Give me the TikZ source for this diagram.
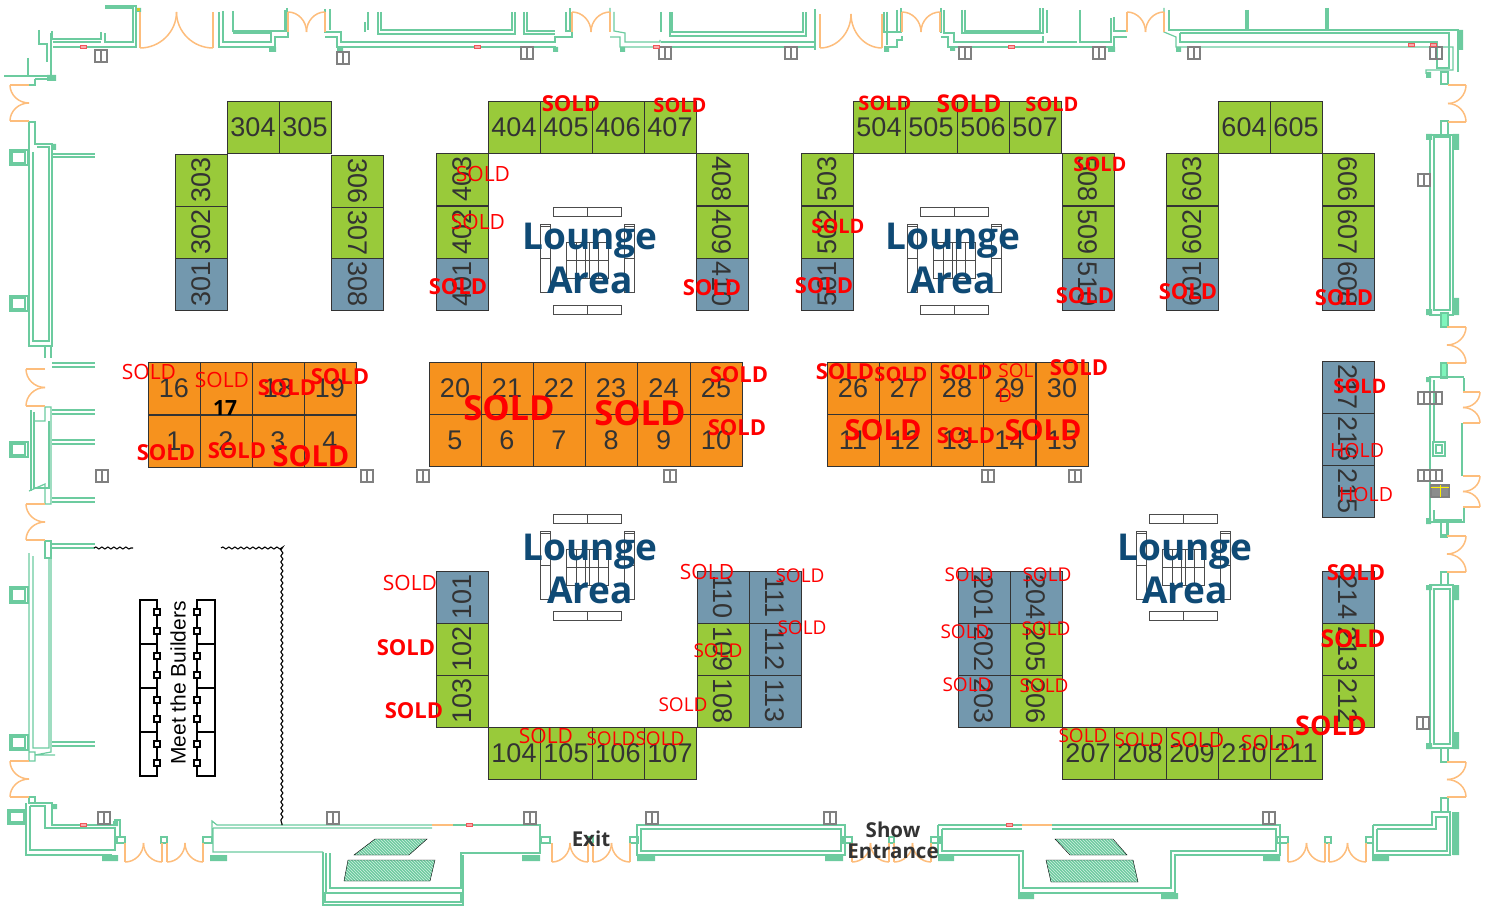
\documentclass[tikz,border=0pt]{standalone}
\usepackage{fontspec}
\usepackage{amsmath}
\usetikzlibrary{decorations.pathmorphing,patterns}
\newfontfamily\boothfont{Liberation Sans}
\newfontfamily\labelfont{Open Sans}
\definecolor{wallgreen}{HTML}{6CCB9F}
\definecolor{walllight}{HTML}{7FF5BC}
\definecolor{dooryellow}{HTML}{FDBD7C}
\definecolor{boothgreen}{HTML}{99CA3A}
\definecolor{boothblue}{HTML}{7398AE}
\definecolor{boothorange}{HTML}{F6921E}
\definecolor{boothtext}{HTML}{333333}
\definecolor{loungeblue}{HTML}{0F4A75}
\definecolor{marker}{HTML}{F0565A}
\newcommand{\hdoor}[4]{
	\draw[doorleaf] (#1,#3) -- (#1,#4) (#2,#3) -- (#2,#4);
	\draw[doorarc] (#1,#3) .. controls ({#1+0.55*(#2-#1)/2},#3) and ({(#1+#2)/2},{#3+0.45*(#4-#3)}) .. ({(#1+#2)/2},#4);
	\draw[doorarc] (#2,#3) .. controls ({#2-0.55*(#2-#1)/2},#3) and ({(#1+#2)/2},{#3+0.45*(#4-#3)}) .. ({(#1+#2)/2},#4);
}
\newcommand{\vdoor}[4]{
	\draw[doorleaf] (#3,#1) -- (#4,#1) (#3,#2) -- (#4,#2);
	\draw[doorarc] (#3,#1) .. controls (#3,{#1+0.55*(#2-#1)/2}) and ({#3+0.45*(#4-#3)},{(#1+#2)/2}) .. (#4,{(#1+#2)/2});
	\draw[doorarc] (#3,#2) .. controls (#3,{#2-0.55*(#2-#1)/2}) and ({#3+0.45*(#4-#3)},{(#1+#2)/2}) .. (#4,{(#1+#2)/2});
}
\newcommand{\liftbox}[2]{
	\draw[lift] ({#1-6},{#2-6}) rectangle ({#1+6},{#2+6}) (#1,{#2-6}) -- (#1,{#2+6});
}
\newcommand{\redmark}[2]{
	\draw[marker,line width=1pt,fill=marker!50] ({#1-3},{#2-1.5}) rectangle ({#1+3},{#2+1.5});
}
\newcommand{\loungeset}[2]{
	\begin{scope}[shift={(#1,#2)}]
		\draw[seat] (-34,-53) rectangle (34,-44) (0,-53) -- (0,-44);
		\draw[seat] (-34,44) rectangle (34,53) (0,44) -- (0,53);
		\draw[seat] (-47,-36) rectangle (-37,32) (-47,-34) -- (-37,-34) (-47,-2) -- (-37,-2);
		\draw[seat] (37,-36) rectangle (47,32) (37,-34) -- (47,-34) (37,-2) -- (47,-2);
		\draw[seat] (-21,-18) rectangle (21,18) (-21,0) -- (21,0) (-11,-18) -- (-11,18) (11,-18) -- (11,18) (-2,-18) -- (-2,18) (2,-18) -- (2,18);
	\end{scope}
}
\newcommand{\standpair}[1]{
	\draw[stand] (140,#1) rectangle (157,{#1+44}) (197,#1) rectangle (215,{#1+44});
	\draw[stand,fill=white] (154,{#1+9}) rectangle (160,{#1+15}) (154,{#1+28}) rectangle (160,{#1+34}) (194,{#1+9}) rectangle (200,{#1+15}) (194,{#1+28}) rectangle (200,{#1+34});
}
\begin{document}
\begin{tikzpicture}[
		x=1pt,y=-1pt,
		wall/.style={draw=wallgreen,line width=1.2pt},
		wallfill/.style={fill=wallgreen},
		doorleaf/.style={draw=dooryellow,line width=2.6pt},
		doorarc/.style={draw=dooryellow,line width=1.5pt},
		lift/.style={draw=gray,line width=1.3pt},
		seat/.style={draw=black!70,line width=1pt},
		stand/.style={draw=black,line width=1.1pt},
		hatch/.style={preaction={fill=wallgreen},pattern=north west lines,pattern color=white!70!wallgreen},
		fence/.style={draw=black,line width=1.1pt,decorate,decoration={snake,amplitude=1pt,segment length=6pt}},
		booth/.style={rectangle,draw=boothtext,line width=0.9pt,minimum width=52pt,minimum height=52pt,inner sep=0pt,text=boothtext,font=\boothfont\fontsize{27}{30}\selectfont},
		gbooth/.style={booth,fill=boothgreen},
		bbooth/.style={booth,fill=boothblue},
		obooth/.style={booth,fill=boothorange},
		soldbig/.style={text=red,inner sep=0pt,font=\labelfont\bfseries\fontsize{#1}{#1}\selectfont},
		soldthin/.style={text=red,inner sep=0pt,font=\labelfont\fontsize{#1}{#1}\selectfont},
		lounge/.style={text=loungeblue,inner sep=0pt,font=\labelfont\bfseries\fontsize{37}{40}\selectfont},
		signtext/.style={text=boothtext,inner sep=0pt,font=\labelfont\bfseries\fontsize{20.5}{24}\selectfont}
		]
	\useasboundingbox (0,0) rectangle (1488,909);

	\draw[wall] (105,6) -- (136,6) -- (136,47) -- (53,47);
	\draw[wall] (105,8) -- (133,8) -- (133,42) -- (105,42) -- (105,33);
	\draw[wall] (52,31) -- (52,39) -- (101,39) -- (101,32) (53,42) -- (101,42);
	\draw[wall] (39,30) -- (39,44) -- (47,44) -- (47,62) (51,33) -- (51,76);
	\draw[wall] (4,76) -- (56,76) (28,58) -- (28,76) (35,79) -- (51,79) (35,79) -- (35,85) -- (29,85);
	\draw[wall] (29,122) -- (35,122) -- (35,144) -- (52,144) -- (52,346) -- (29,346) -- (29,122);
	\draw[wall] (33,152) -- (33,341) -- (49,341) -- (49,147) -- (37,147);
	\draw[wall] (45,346) -- (45,358) (51,346) -- (51,358);
	\draw[wall] (10,150) rectangle (28,165) (12,152) rectangle (25,163);
	\draw[wall] (10,296) rectangle (28,311) (12,298) rectangle (25,309);
	\draw[wall] (52,154) -- (95,154) (52,157) -- (95,157);
	\draw[wall] (52,363) -- (95,363) (52,367) -- (95,367);
	\draw[wall] (52,410) -- (95,410) (52,414) -- (95,414);
	\draw[wall] (52,440) -- (95,440) (52,444) -- (95,444);
	\draw[wall] (52,498) -- (95,498) (52,502) -- (95,502);
	\draw[wall] (52,544) -- (95,544) (52,548) -- (95,548);
	\draw[wall] (45,407) -- (51,407) -- (51,504) -- (45,504) -- (45,484) -- (29,491) (45,407) -- (45,421) -- (33,421);
	\draw[wall] (31,410) -- (31,491) (34,412) -- (34,488) -- (49,488) -- (49,421);
	\draw[wall] (10,442) rectangle (28,457) (12,444) rectangle (25,455);
	\draw[wall] (45,541) -- (51,541) -- (51,558) -- (45,558) -- (45,541);
	\draw[wall] (29,553) -- (29,752) (33,556) -- (33,748) -- (49,748) -- (49,557) (51,557) -- (51,752) -- (35,755) (29,752) rectangle (35,761) (35,755) -- (55,755);
	\draw[wall] (10,587) rectangle (28,603) (12,589) rectangle (25,601);
	\draw[wall] (10,735) rectangle (28,750) (12,737) rectangle (25,748);
	\draw[wall] (52,742) -- (95,742) (52,746) -- (95,746);
	\draw[wall] (29,797) rectangle (35,803);
	\draw[wall] (8,810) rectangle (26,824) (10,812) rectangle (24,822);
	\draw[wall] (26,803) -- (26,855) -- (112,855) (30,806) -- (30,850) -- (115,850) -- (115,828) -- (45,828) -- (45,806) -- (30,806) (30,803) -- (52,803) -- (52,825) -- (115,825) -- (115,820) -- (120,820) -- (120,837);
	\draw[wall] (117,837) rectangle (125,843) (161,837) rectangle (167,843) (203,837) rectangle (212,843);
	\draw[wall] (212,837) -- (212,821) -- (217,825) -- (432,825) (213,828) -- (213,852) -- (323,852) (213,828) -- (432,828);
	\draw[wall] (323,852) -- (323,905) -- (463,905) -- (463,855) (330,853) -- (330,888) -- (461,888) -- (461,853) -- (540,853) -- (540,825) -- (453,825);
	\draw[wall] (325,893) rectangle (461,902) (326,853) -- (326,893);
	\draw[wall] (541,837) rectangle (550,843) (630,837) rectangle (638,843) (588,837) rectangle (593,843);
	\draw[wall] (637,825) rectangle (845,855) (641,829) rectangle (841,851);
	\draw[wall] (843,837) rectangle (852,843) (889,837) rectangle (894,843) (931,837) rectangle (940,843);
	\draw[wall] (938,825) -- (1022,825) (1052,825) -- (1280,825) -- (1280,855) -- (1175,855) -- (1175,893) -- (1019,893) -- (1019,855) -- (938,855) -- (938,825);
	\draw[wall] (942,829) -- (1022,829) (1052,829) -- (1276,829) -- (1276,851) -- (1171,851) -- (1171,888) -- (1023,888) -- (1023,851) -- (942,851) -- (942,829);
	\draw[wall] (1277,837) rectangle (1288,843) (1325,837) rectangle (1331,843) (1366,837) rectangle (1373,843);
	\draw[wall] (1373,825) -- (1432,825) -- (1432,812) -- (1450,812) -- (1450,855) -- (1373,855) -- (1373,825) (1377,829) -- (1436,829) -- (1436,817) -- (1447,817) -- (1447,851) -- (1377,851) -- (1377,829);
	\draw[wall] (1453,812) -- (1453,855);

	\draw[wall] (219,12) -- (219,47) -- (275,47) -- (275,37) -- (288,37) -- (288,32) (287,8) -- (287,32);
	\draw[wall] (223,11) -- (223,42) -- (271,42) -- (271,33) -- (233,33) (233,11) -- (233,31) -- (285,31) -- (285,10);
	\draw[wall] (325,9) -- (325,32) -- (341,32) -- (341,42) -- (555,42) -- (555,37) -- (572,37) -- (572,32) (330,9) -- (330,30);
	\draw[wall] (325,37) -- (337,37) -- (337,47) -- (555,47) -- (555,52);
	\draw[wall] (368,12) -- (368,30) (365,22) -- (365,32) (378,12) -- (378,34) -- (515,34) -- (515,12) (381,12) -- (381,30) -- (512,30) -- (512,12);
	\draw[wall] (524,12) -- (524,34) -- (555,34) (527,12) -- (527,31) -- (555,31) (566,12) -- (566,31) -- (570,31) (570,8) -- (570,32);
	\draw[wall] (610,8) -- (610,32) (614,12) -- (614,31) -- (625,33) -- (625,42) -- (660,42) -- (660,40) (610,37) -- (620,37) -- (620,47) -- (660,47);
	\draw[wall] (661,12) -- (661,32) (670,12) -- (670,36) -- (806,36) -- (806,12) (672,12) -- (672,32) -- (803,32) -- (803,12);
	\draw[wall] (661,42) -- (815,42) (661,47) -- (815,47) (815,9) -- (815,50);
	\draw[wall] (884,12) -- (884,32) -- (902,32) (887,12) -- (887,45) (897,10) -- (897,32) (901,8) -- (901,32);
	\draw[wall] (884,47) -- (897,47) -- (897,40) -- (902,40) -- (902,36);
	\draw[wall] (941,8) -- (941,33) (944,10) -- (944,33) -- (954,33) -- (954,42) -- (1043,42) -- (1043,36) (941,37) -- (948,37) -- (948,47) -- (1114,47) -- (1114,37) -- (1127,37);
	\draw[wall] (962,10) -- (962,33) -- (1043,33) -- (1043,8) (965,10) -- (965,31) -- (1040,31) -- (1040,8);
	\draw[wall] (1047,10) -- (1047,33) (1047,42) -- (1077,42) (1080,10) -- (1080,42) -- (1111,42) -- (1111,18) (1114,17) -- (1114,31) -- (1127,31);
	\draw[wall] (1164,8) -- (1164,32) -- (1176,37) -- (1176,47) -- (1453,47) -- (1453,70) -- (1441,70) -- (1426,70) -- (1426,74);
	\draw[wall] (1169,10) -- (1169,30) -- (1458,30) -- (1458,72) (1246,10) -- (1246,30) (1248,10) -- (1248,30) (1326,8) -- (1326,30) (1328,8) -- (1328,30);
	\draw[wall] (1180,33) -- (1449,33) -- (1449,68) -- (1437,68) -- (1437,42) -- (1180,42) -- (1180,33);
	\draw[wall] (1441,72) rectangle (1448,84) (1441,121) rectangle (1448,135);
	\draw[wall] (1430,135) rectangle (1453,315) (1434,137) rectangle (1450,310);
	\draw[wall,fill=walllight] (1441,313) rectangle (1448,327);
	\draw[wall] (1441,520) rectangle (1448,535) (1441,572) rectangle (1448,585) (1441,748) rectangle (1448,762) (1441,798) rectangle (1448,812);
	\draw[wall] (1430,585) rectangle (1453,748) (1434,589) rectangle (1450,744);
	\draw[wall,fill=walllight] (1441,363) rectangle (1447,378);
	\draw[wall] (1441,522) rectangle (1447,537);
	\draw[wall] (1464,378) -- (1464,392) (1462,423) -- (1462,476) (1464,507) -- (1464,522) -- (1430,522) -- (1430,377) -- (1464,377);
	\draw[wall] (1434,380) -- (1434,442) (1434,510) -- (1434,520) -- (1462,520) (1433,442) rectangle (1445,456) (1436,445) rectangle (1442,453);
	\draw[gray,line width=1.2pt,fill=black!45] (1431,485) rectangle (1449,497);
	\draw[yellow,line width=1pt] (1431,487) -- (1449,487) (1440,485) -- (1440,497);

	\fill[wallfill] (47,75) rectangle (56,81) (51,144) rectangle (56,150) (136,8) rectangle (141,12) (269,47) rectangle (276,52) (337,47) rectangle (343,52) (553,47) rectangle (558,52) (620,47) rectangle (625,52) (884,47) rectangle (889,52) (950,47) rectangle (955,51) (1108,47) rectangle (1115,52) (1176,47) rectangle (1181,52);
	\fill[wallfill] (1426,134) rectangle (1432,140) (1453,134) rectangle (1459,150) (1426,309) rectangle (1432,315) (1453,298) rectangle (1459,315) (1426,585) rectangle (1432,590) (1453,585) rectangle (1459,600) (1426,743) rectangle (1432,749) (1453,732) rectangle (1459,749) (1426,72) rectangle (1431,78) (1458,30) rectangle (1463,50) (1453,812) rectangle (1459,855) (1426,377) rectangle (1431,382) (1426,518) rectangle (1431,524);
	\fill[wallfill] (102,855) rectangle (118,861) (210,855) rectangle (227,861) (522,855) rectangle (540,861) (637,855) rectangle (655,861) (825,855) rectangle (843,861) (938,855) rectangle (954,861) (1263,855) rectangle (1280,861) (1372,855) rectangle (1389,861) (1018,893) rectangle (1034,899) (1161,893) rectangle (1178,899) (51,804) rectangle (57,809) (113,821) rectangle (118,826);
	\fill[yellow!80!black] (137,8) rectangle (140,11);
	\draw[hatch] (354,855) -- (375,839) -- (427,839) -- (409,855) -- cycle;
	\draw[hatch] (344,881) -- (348,860) -- (435,860) -- (430,881) -- cycle;
	\draw[hatch] (1055,839) -- (1113,839) -- (1127,855) -- (1070,855) -- cycle;
	\draw[hatch] (1046,860) -- (1133,860) -- (1138,882) -- (1051,882) -- cycle;

	\hdoor{140}{213}{48}{12}
	\hdoor{288}{325}{12}{32}
	\hdoor{572}{610}{12}{32}
	\hdoor{820}{882}{48}{14}
	\hdoor{902}{940}{12}{32}
	\hdoor{1127}{1164}{12}{32}
	\hdoor{125}{162}{862}{843}
	\hdoor{167}{203}{862}{843}
	\hdoor{552}{588}{862}{843}
	\hdoor{593}{630}{862}{843}
	\hdoor{852}{889}{862}{843}
	\hdoor{894}{931}{862}{843}
	\hdoor{1288}{1325}{862}{843}
	\hdoor{1329}{1366}{862}{843}
	\vdoor{85}{121}{10}{29}
	\vdoor{369}{406}{26}{45}
	\vdoor{504}{540}{26}{45}
	\vdoor{761}{797}{10}{29}
	\vdoor{85}{122}{1466}{1448}
	\vdoor{327}{363}{1466}{1447}
	\vdoor{392}{423}{1480}{1463}
	\vdoor{476}{507}{1480}{1463}
	\vdoor{536}{572}{1466}{1447}
	\vdoor{762}{797}{1466}{1447}
	\draw[doorleaf] (432,825) -- (453,825) (1022,825) -- (1052,825);

	\liftbox{101}{56}
	\liftbox{343}{58}
	\liftbox{527}{53}
	\liftbox{665}{53}
	\liftbox{791}{53}
	\liftbox{965}{53}
	\liftbox{1099}{53}
	\liftbox{1194}{53}
	\liftbox{1436}{53}
	\liftbox{102}{476}
	\liftbox{367}{476}
	\liftbox{423}{476}
	\liftbox{670}{476}
	\liftbox{988}{476}
	\liftbox{1075}{476}
	\liftbox{1424}{180}
	\liftbox{1423}{723}
	\liftbox{104}{818}
	\liftbox{333}{818}
	\liftbox{530}{818}
	\liftbox{652}{818}
	\liftbox{830}{818}
	\liftbox{1269}{818}
	\draw[lift] (1418,392) rectangle (1442,404) (1424,392) -- (1424,404) (1430,392) -- (1430,404) (1436,392) -- (1436,404);
	\draw[lift] (1418,470) rectangle (1442,481) (1424,470) -- (1424,481) (1430,470) -- (1430,481) (1436,470) -- (1436,481);
	\redmark{83}{47}
	\redmark{477}{47}
	\redmark{656}{47}
	\redmark{1011}{47}
	\redmark{1411}{45}
	\redmark{1433}{45}
	\redmark{83}{825}
	\redmark{469}{825}
	\redmark{1009}{825}

	\draw[fence] (94,548) -- (133,548);
	\draw[fence] (221,548) -- (282,548) -- (282,825);
	\standpair{600}
	\standpair{644}
	\standpair{688}
	\standpair{732}
	\node[rotate=90,inner sep=0pt,text=black,font=\boothfont\fontsize{21}{24}\selectfont] (builders) at (178,683) {Meet the Builders};

	\loungeset{587}{261}
	\loungeset{954}{261}
	\loungeset{587}{567}
	\loungeset{1183}{567}

	\node[gbooth] (b304) at (253,127) {304};
	\node[gbooth] (b305) at (305,127) {305};
	\node[gbooth,rotate=90] (b303) at (201,180) {303};
	\node[gbooth,rotate=90] (b302) at (201,232) {302};
	\node[bbooth,rotate=90] (b301) at (201,284) {301};
	\node[gbooth,rotate=-90] (b306) at (357.5,181) {306};
	\node[gbooth,rotate=-90] (b307) at (357.5,233) {307};
	\node[bbooth,rotate=-90] (b308) at (357.5,284.5) {308};

	\node[gbooth] (b404) at (514,127) {404};
	\node[gbooth] (b405) at (566,127) {405};
	\node[gbooth] (b406) at (618,127) {406};
	\node[gbooth] (b407) at (670,127) {407};
	\node[gbooth,rotate=90] (b403) at (462,179) {403};
	\node[gbooth,rotate=90] (b402) at (462,232) {402};
	\node[bbooth,rotate=90] (b401) at (462,284) {401};
	\node[gbooth,rotate=-90] (b408) at (722,179) {408};
	\node[gbooth,rotate=-90] (b409) at (722,232) {409};
	\node[bbooth,rotate=-90] (b410) at (722,284) {410};

	\node[gbooth] (b504) at (879,127) {504};
	\node[gbooth] (b505) at (931,127) {505};
	\node[gbooth] (b506) at (983,127) {506};
	\node[gbooth] (b507) at (1035,127) {507};
	\node[gbooth,rotate=90] (b503) at (827,179) {503};
	\node[gbooth,rotate=90] (b502) at (827,232) {502};
	\node[bbooth,rotate=90] (b501) at (827,284) {501};
	\node[gbooth,rotate=-90] (b508) at (1088,179) {508};
	\node[gbooth,rotate=-90] (b509) at (1088,232) {509};
	\node[bbooth,rotate=-90] (b510) at (1088,284) {510};

	\node[gbooth] (b604) at (1244,127) {604};
	\node[gbooth] (b605) at (1296,127) {605};
	\node[gbooth,rotate=90] (b603) at (1192,179) {603};
	\node[gbooth,rotate=90] (b602) at (1192,232) {602};
	\node[bbooth,rotate=90] (b601) at (1192,284) {601};
	\node[gbooth,rotate=-90] (b606) at (1348,179) {606};
	\node[gbooth,rotate=-90] (b607) at (1348,232) {607};
	\node[bbooth,rotate=-90] (b608) at (1348,284) {608};

	\node[obooth] (b16) at (174,388) {16};
	\node[obooth] (b17) at (226,388) {};
	\node[obooth] (b18) at (278,388) {18};
	\node[obooth] (b19) at (330,388) {19};
	\node[obooth] (b1) at (174,441) {1};
	\node[obooth] (b2) at (226,441) {2};
	\node[obooth] (b3) at (278,441) {3};
	\node[obooth] (b4) at (330,441) {4};
	\node[inner sep=0pt,text=black,font=\labelfont\bfseries\fontsize{21}{24}\selectfont] (n17) at (225,408) {17};

	\node[obooth] (b20) at (455,388) {20};
	\node[obooth] (b21) at (507,388) {21};
	\node[obooth] (b22) at (559,388) {22};
	\node[obooth] (b23) at (611,388) {23};
	\node[obooth,minimum width=53pt] (b24) at (663.5,388) {24};
	\node[obooth] (b25) at (716,388) {25};
	\node[obooth] (b5) at (455,440) {5};
	\node[obooth] (b6) at (507,440) {6};
	\node[obooth] (b7) at (559,440) {7};
	\node[obooth] (b8) at (611,440) {8};
	\node[obooth,minimum width=53pt] (b9) at (663.5,440) {9};
	\node[obooth] (b10) at (716,440) {10};

	\node[obooth] (b26) at (853,388) {26};
	\node[obooth] (b27) at (905,388) {27};
	\node[obooth] (b28) at (957,388) {28};
	\node[obooth] (b29) at (1009.5,388) {29};
	\node[obooth] (b30) at (1062,388) {30};
	\node[obooth] (b11) at (853,440) {11};
	\node[obooth] (b12) at (905,440) {12};
	\node[obooth] (b13) at (957,440) {13};
	\node[obooth] (b14) at (1009.5,440) {14};
	\node[obooth] (b15) at (1062,440) {15};

	\node[bbooth,rotate=-90] (b217) at (1348,387) {217};
	\node[bbooth,rotate=-90] (b216) at (1348,439) {216};
	\node[bbooth,rotate=-90] (b215) at (1348,491) {215};

	\node[bbooth,rotate=90] (b101) at (462,597) {101};
	\node[gbooth,rotate=90] (b102) at (462,649) {102};
	\node[gbooth,rotate=90] (b103) at (462,701) {103};
	\node[gbooth] (b104) at (514,753) {104};
	\node[gbooth] (b105) at (566,753) {105};
	\node[gbooth] (b106) at (618,753) {106};
	\node[gbooth] (b107) at (670,753) {107};
	\node[gbooth,rotate=-90] (b108) at (723,701) {108};
	\node[gbooth,rotate=-90] (b109) at (723,649) {109};
	\node[bbooth,rotate=-90] (b110) at (723,597) {110};
	\node[bbooth,rotate=-90] (b111) at (775,597) {111};
	\node[bbooth,rotate=-90] (b112) at (775,649) {112};
	\node[bbooth,rotate=-90] (b113) at (775,701) {113};

	\node[bbooth,rotate=-90] (b201) at (984,597) {201};
	\node[bbooth,rotate=-90] (b202) at (984,649) {202};
	\node[bbooth,rotate=-90] (b203) at (984,701) {203};
	\node[bbooth,rotate=-90] (b204) at (1036,597) {204};
	\node[gbooth,rotate=-90] (b205) at (1036,649) {205};
	\node[gbooth,rotate=-90] (b206) at (1036,701) {206};
	\node[gbooth] (b207) at (1088,753) {207};
	\node[gbooth] (b208) at (1140,753) {208};
	\node[gbooth] (b209) at (1192,753) {209};
	\node[gbooth] (b210) at (1244,753) {210};
	\node[gbooth] (b211) at (1296,753) {211};
	\node[gbooth,rotate=-90] (b212) at (1348,701) {212};
	\node[gbooth,rotate=-90] (b213) at (1348,649) {213};
	\node[bbooth,rotate=-90] (b214) at (1348,597) {214};

	\node[lounge] (la1) at (590,241) {Lounge};
	\node[lounge] (lb1) at (590,280) {Area};
	\node[lounge] (la2) at (953,241) {Lounge};
	\node[lounge] (lb2) at (953,280) {Area};
	\node[lounge] (la3) at (590,552) {Lounge};
	\node[lounge] (lb3) at (590,590) {Area};
	\node[lounge] (la4) at (1185,552) {Lounge};
	\node[lounge] (lb4) at (1185,590) {Area};

	\node[signtext] (exit) at (591,839) {Exit};
	\node[signtext] (show) at (893,830) {Show};
	\node[signtext] (entrance) at (893,851) {Entrance};

	\node[soldbig=22] (s405) at (571,104) {SOLD};
	\node[soldbig=20] (s407) at (680,105) {SOLD};
	\node[soldbig=20] (s504) at (885,103) {SOLD};
	\node[soldbig=24.5] (s505) at (969,104) {SOLD};
	\node[soldbig=20] (s507) at (1052,104) {SOLD};
	\node[soldbig=20] (s508) at (1100,164) {SOLD};
	\node[soldthin=21] (s403) at (483,174) {SOLD};
	\node[soldthin=21] (s402) at (478,222) {SOLD};
	\node[soldbig=22] (s401) at (458,287) {SOLD};
	\node[soldbig=22] (s410) at (712,288) {SOLD};
	\node[soldbig=22] (s501) at (824,286) {SOLD};
	\node[soldbig=20] (s502) at (838,226) {SOLD};
	\node[soldbig=22] (s510) at (1085,296) {SOLD};
	\node[soldbig=22] (s601) at (1188,292) {SOLD};
	\node[soldbig=22] (s608) at (1344,298) {SOLD};
	\node[soldbig=20] (s217) at (1360,386) {SOLD};
	\node[soldthin=19.5] (h216) at (1357,451) {HOLD};
	\node[soldthin=19.5] (h215) at (1366,495) {HOLD};

	\node[soldthin=21] (s16) at (149,372) {SOLD};
	\node[soldthin=21] (s17) at (222,380) {SOLD};
	\node[soldbig=22] (s18) at (287,388) {SOLD};
	\node[soldbig=22] (s19) at (340,377) {SOLD};
	\node[soldbig=22] (s1) at (166,453) {SOLD};
	\node[soldbig=22] (s2) at (237,451) {SOLD};
	\node[soldbig=29] (s3) at (311,456) {SOLD};
	\node[soldbig=34.5] (s21) at (509,408) {SOLD};
	\node[soldbig=34.5] (s23) at (640,413) {SOLD};
	\node[soldbig=22] (s25) at (739,375) {SOLD};
	\node[soldbig=22] (s10) at (737,428) {SOLD};
	\node[soldbig=22] (s26) at (845,372) {SOLD};
	\node[soldbig=20] (s27) at (901,374) {SOLD};
	\node[soldbig=20] (s28) at (966,372) {SOLD};
	\node[soldthin=19] (s29) at (1016,371) {SOL};
	\node[soldthin=19] (s29d) at (1005,396) {D};
	\node[soldbig=22] (s30) at (1079,368) {SOLD};
	\node[soldbig=29] (s12) at (883,430) {SOLD};
	\node[soldbig=22] (s13) at (966,436) {SOLD};
	\node[soldbig=29] (s15) at (1043,430) {SOLD};

	\node[soldthin=21] (s101) at (410,583) {SOLD};
	\node[soldbig=22] (s102) at (406,648) {SOLD};
	\node[soldbig=22] (s103) at (414,711) {SOLD};
	\node[soldthin=21] (s110) at (707,572) {SOLD};
	\node[soldthin=19] (s111) at (800,576) {SOLD};
	\node[soldthin=19] (s112) at (802,628) {SOLD};
	\node[soldthin=19] (s109) at (718,651) {SOLD};
	\node[soldthin=19] (s108) at (683,705) {SOLD};
	\node[soldthin=21] (s105) at (546,736) {SOLD};
	\node[soldthin=19] (s106) at (611,739) {SOLD};
	\node[soldthin=19] (s107) at (660,739) {SOLD};
	\node[soldthin=19] (s201) at (969,575) {SOLD};
	\node[soldthin=19] (s204) at (1047,575) {SOLD};
	\node[soldthin=19] (s202) at (965,632) {SOLD};
	\node[soldthin=19] (s205) at (1046,629) {SOLD};
	\node[soldthin=19] (s203) at (967,685) {SOLD};
	\node[soldthin=19] (s206) at (1044,686) {SOLD};
	\node[soldthin=19] (s207) at (1083,736) {SOLD};
	\node[soldthin=19] (s208) at (1139,740) {SOLD};
	\node[soldthin=21] (s209) at (1197,740) {SOLD};
	\node[soldthin=21] (s210) at (1268,743) {SOLD};
	\node[soldbig=22] (s214) at (1356,573) {SOLD};
	\node[soldbig=24.5] (s213) at (1353,639) {SOLD};
	\node[soldbig=27] (s212) at (1331,726) {SOLD};
\end{tikzpicture}
\end{document}
